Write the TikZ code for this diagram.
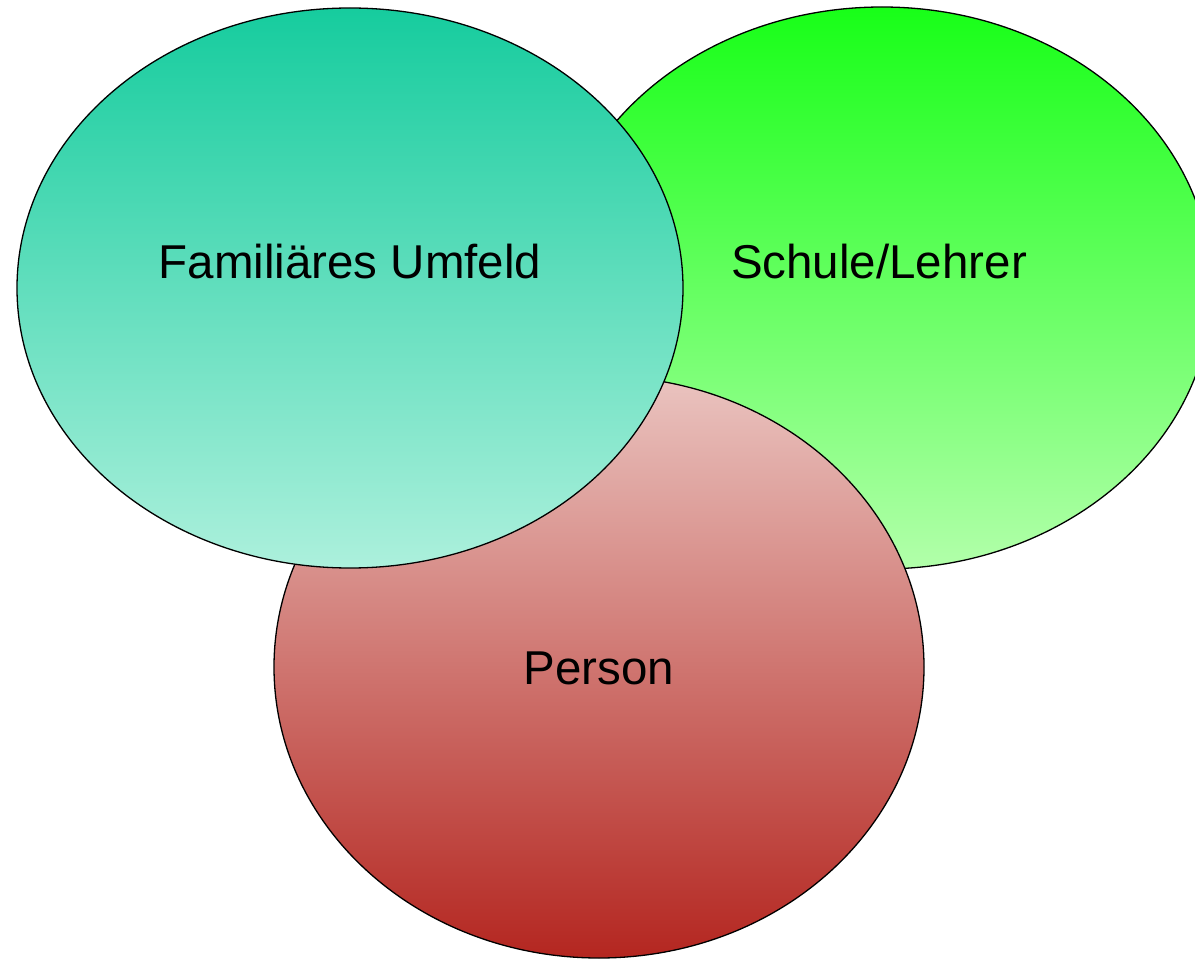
\documentclass[tikz,border=0pt]{standalone}
\usepackage{fontspec}
\setmainfont{Liberation Sans}
\begin{document}
\begin{tikzpicture}[x=1pt,y=-1pt,
  blob/.style={draw=black,line width=1.3pt},
  lbl/.style={font=\fontsize{47.5}{57}\selectfont,text=black}]
\useasboundingbox (0,0) rectangle (1195,960);
% Schule/Lehrer
\path[blob,top color={rgb,255:red,24;green,255;blue,24},bottom color={rgb,255:red,178;green,255;blue,170}]
  (882,288) ellipse [x radius=330,y radius=281];
% Person
\path[blob,top color={rgb,255:red,234;green,196;blue,192},bottom color={rgb,255:red,180;green,38;blue,32}]
  (599,667) ellipse [x radius=325,y radius=291];
% Familiares Umfeld
\path[blob,top color={rgb,255:red,22;green,204;blue,158},bottom color={rgb,255:red,172;green,240;blue,220}]
  (350,288) ellipse [x radius=333,y radius=280];
\node[lbl] (fam) at (350,262) {Familiäres Umfeld};
\node[lbl] (sch) at (879,262) {Schule/Lehrer};
\node[lbl] (per) at (599,668) {Person};
\end{tikzpicture}
\end{document}
